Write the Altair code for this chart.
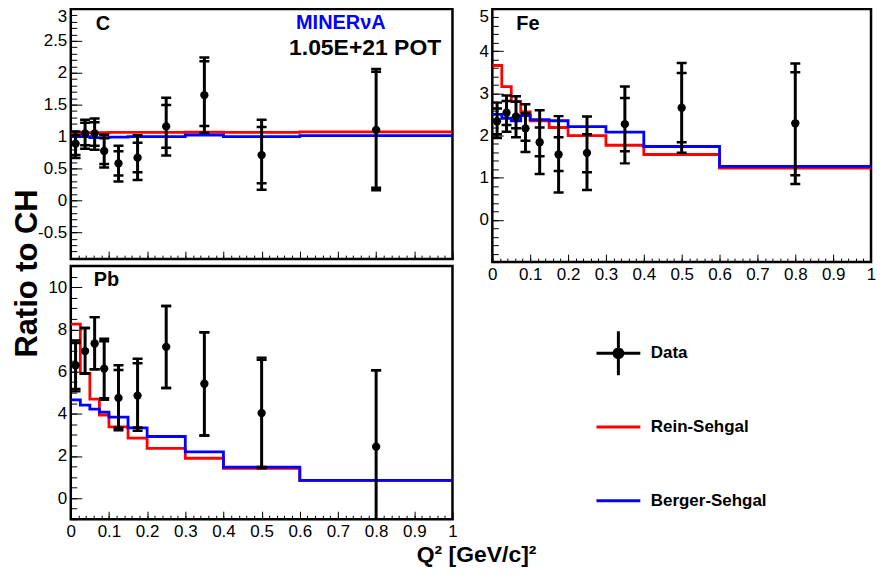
import altair as alt
import pandas as pd

FONT = "Liberation Sans"

# ---------------- data ----------------
edges = [0, 0.025, 0.05, 0.075, 0.1, 0.15, 0.2, 0.3, 0.4, 0.6, 1.0]
q2 = [0.0125, 0.0375, 0.0625, 0.0875, 0.125, 0.175, 0.25, 0.35, 0.5, 0.8]
models = ["Rein-Sehgal", "Berger-Sehgal"]
legend_names = ["Data", "Rein-Sehgal", "Berger-Sehgal"]
legend_colors = ["#000000", "#ff0000", "#0000ff"]
legend_shapes = [
    "M-1,0H1M0,-1V1M0.2,0A0.2,0.2,0,1,1,-0.2,0A0.2,0.2,0,1,1,0.2,0Z",
    "M0,-1M0,1M-1,0H1",
    "M0,-1M0,1M-1,0H1",
]

# Carbon
c_val = [0.89, 1.05, 1.05, 0.775, 0.58, 0.67, 1.16, 1.65, 0.71, 1.105]
c_tot_hi = [1.08, 1.265, 1.285, 1.03, 0.855, 1.02, 1.61, 2.24, 1.265, 2.06]
c_stat_hi = [1.02, 1.215, 1.225, 0.975, 0.77, 0.905, 1.495, 2.18, 1.15, 2.015]
c_stat_lo = [0.71, 0.865, 0.855, 0.57, 0.39, 0.44, 0.825, 1.165, 0.27, 0.20]
c_tot_lo = [0.665, 0.81, 0.795, 0.515, 0.295, 0.32, 0.705, 1.06, 0.165, 0.16]
c_rs = [1.05, 1.06, 1.06, 1.06, 1.065, 1.065, 1.065, 1.07, 1.065, 1.075]
c_bs = [1.0, 1.0, 0.985, 0.985, 0.99, 1.0, 1.0, 1.025, 1.0, 1.015]

# Iron
fe_val = [2.34, 2.54, 2.45, 2.17, 1.84, 1.55, 1.59, 2.27, 2.66, 2.29]
fe_tot_hi = [2.78, 2.95, 2.93, 2.74, 2.60, 2.46, 2.45, 3.16, 3.72, 3.71]
fe_stat_hi = [2.64, 2.82, 2.80, 2.52, 2.19, 1.96, 2.03, 2.89, 3.48, 3.50]
fe_stat_lo = [2.03, 2.25, 2.17, 1.875, 1.51, 1.16, 1.13, 1.625, 1.84, 1.06]
fe_tot_lo = [1.94, 2.09, 1.96, 1.61, 1.09, 0.65, 0.71, 1.34, 1.59, 0.85]
fe_rs = [3.66, 3.16, 2.81, 2.56, 2.35, 2.19, 2.0, 1.77, 1.55, 1.23]
fe_bs = [2.5, 2.41, 2.35, 2.47, 2.375, 2.35, 2.21, 2.08, 1.74, 1.27]

# Lead
pb_val = [6.3, 6.97, 7.33, 6.14, 4.75, 4.86, 7.17, 5.42, 4.03, 2.44]
pb_tot_hi = [7.47, 8.06, 8.58, 7.55, 6.3, 6.61, 9.11, 7.86, 6.66, 6.06]
pb_stat_hi = [7.35, 8.06, 8.58, 7.44, 6.07, 6.39, 9.11, 7.86, 6.56, 6.06]
pb_stat_lo = [5.17, 5.91, 6.11, 4.74, 3.33, 3.35, 5.22, 2.97, 1.47, -1.3]
pb_tot_lo = [5.06, 5.91, 6.11, 4.66, 3.22, 3.19, 5.22, 2.97, 1.41, -1.3]
pb_rs = [8.25, 5.91, 4.69, 3.94, 3.38, 2.84, 2.36, 1.89, 1.41, 0.84]
pb_bs = [4.66, 4.41, 4.22, 4.08, 3.84, 3.33, 2.92, 2.19, 1.47, 0.84]

# axis ticks
x_major = [0, 0.1, 0.2, 0.3, 0.4, 0.5, 0.6, 0.7, 0.8, 0.9, 1.0]
x_minor = [round(i * 0.02, 2) for i in range(51)]
c_major = [-0.5, 0, 0.5, 1, 1.5, 2, 2.5]
c_top = [3]
c_minor = [round(-0.9 + i * 0.1, 2) for i in range(40)]
fe_major = [0, 1, 2, 3, 4]
fe_top = [5]
fe_minor = [round(-1 + i * 0.2, 2) for i in range(31)]
pb_major = [0, 2, 4, 6, 8, 10]
pb_top = []
pb_minor = [round(-1 + i * 0.5, 2) for i in range(25)]

LABEL_EXPR = "datum.value < 0 ? '-' + format(-datum.value, '~r') : format(datum.value, '~r')"


def points_df(val, tlo, slo, shi, thi):
    return pd.DataFrame({"q2": q2, "val": val, "tot_lo": tlo, "stat_lo": slo,
                         "stat_hi": shi, "tot_hi": thi})


def model_df(rs, bs):
    rows = []
    for name, vals in zip(models, [rs, bs]):
        for i, e in enumerate(edges):
            rows.append({"model": name, "x": e, "y": vals[min(i, len(vals) - 1)]})
    return pd.DataFrame(rows)


LEG = alt.Legend(title=None, orient="none", legendX=526, legendY=322,
                 symbolSize=1936, symbolStrokeWidth=3, symbolOpacity=1,
                 labelFontSize=17, labelFontWeight="bold", labelFont=FONT,
                 labelColor="black", labelOffset=9, rowPadding=17, gridAlign="all")
S_STROKE = alt.Scale(domain=legend_names, range=legend_colors)
S_FILL = alt.Scale(domain=legend_names, range=legend_colors)
S_SHAPE = alt.Scale(domain=legend_names, range=legend_shapes)


def label_axis(orient, values, labels, baseline=None):
    kw = {}
    if baseline:
        kw["labelBaseline"] = baseline
    return alt.Axis(orient=orient, values=values, labels=labels, ticks=False,
                    domain=False, grid=False, title=None, labelExpr=LABEL_EXPR,
                    labelFontSize=17, labelFont=FONT, labelColor="black",
                    labelPadding=4, labelFlush=False, **kw)


def tick_axis(orient, values, size):
    return alt.Axis(orient=orient, values=values, labels=False, ticks=True,
                    tickSize=size, offset=-size, domain=False, grid=False,
                    title=None, tickColor="black", tickWidth=1)


def panel(pts, mdl, ydom, y_major, y_top, y_minor, xlabels, w, h, texts, legend=False):
    X = alt.Scale(domain=[0, 1], nice=False, zero=False)
    Y = alt.Scale(domain=ydom, nice=False, zero=False)

    top_axis = label_axis("left", y_top, True, "top") if y_top else None
    lines = alt.Chart(mdl).mark_line(interpolate="step-after", strokeWidth=2.8,
                                     clip=True).encode(
        x=alt.X("x:Q", scale=X, axis=None),
        y=alt.Y("y:Q", scale=Y, axis=top_axis),
        stroke=alt.Stroke("model:N", scale=S_STROKE, legend=LEG),
    )
    rules = alt.Chart(pts).mark_rule(strokeWidth=3, color="black", clip=True).encode(
        x=alt.X("q2:Q", scale=X, axis=label_axis("bottom", x_major, xlabels)),
        y=alt.Y("tot_lo:Q", scale=Y, axis=label_axis("left", y_major, True)),
        y2="tot_hi:Q",
    )
    caps = alt.Chart(pts).transform_fold(
        ["tot_lo", "tot_hi", "stat_lo", "stat_hi"], as_=["kind", "cap"]
    ).mark_tick(orient="horizontal", size=10, thickness=2.5, color="black",
                opacity=1, clip=True).encode(
        x=alt.X("q2:Q", scale=X, axis=tick_axis("bottom", x_major, 8)),
        y=alt.Y("cap:Q", scale=Y, axis=tick_axis("left", y_major + y_top, 11)),
    )
    dots = alt.Chart(pts).mark_circle(size=70, color="black", opacity=1,
                                      clip=True).encode(
        x=alt.X("q2:Q", scale=X, axis=tick_axis("bottom", x_minor, 4)),
        y=alt.Y("val:Q", scale=Y, axis=tick_axis("left", y_minor, 6)),
    )
    layers = [lines, rules, caps, dots]
    if legend:
        legdf = pd.DataFrame({"model": legend_names, "lx": q2[:3], "ly": pb_val[:3]})
        inv = alt.Chart(legdf).mark_point(filled=True, opacity=0, size=1936,
                                          clip=True).encode(
            x=alt.X("lx:Q", scale=X, axis=None),
            y=alt.Y("ly:Q", scale=Y, axis=None),
            fill=alt.Fill("model:N", scale=S_FILL, legend=LEG),
            stroke=alt.Stroke("model:N", scale=S_STROKE, legend=LEG),
            shape=alt.Shape("model:N", scale=S_SHAPE, legend=LEG),
        )
        layers.append(inv)
    for (txt, px, py, fs, col) in texts:
        layers.append(
            alt.Chart(pd.DataFrame({"t": [txt]})).mark_text(
                align="left", baseline="alphabetic", font=FONT, fontSize=fs,
                fontWeight="bold", color=col
            ).encode(text="t:N", x=alt.value(px), y=alt.value(py))
        )
    return alt.layer(*layers).resolve_axis(x="independent", y="independent").properties(
        width=w, height=h)


c_chart = panel(points_df(c_val, c_tot_lo, c_stat_lo, c_stat_hi, c_tot_hi),
                model_df(c_rs, c_bs), [-0.92, 3.0], c_major, c_top, c_minor, False,
                383, 251,
                [("C", 25, 21, 20, "black"), ("MINERνA", 226, 20, 20, "#0000ff"),
                 ("1.05E+21 POT", 219, 46, 23, "black")])
pb_chart = panel(points_df(pb_val, pb_tot_lo, pb_stat_lo, pb_stat_hi, pb_tot_hi),
                 model_df(pb_rs, pb_bs), [-1, 11], pb_major, pb_top, pb_minor, True,
                 383, 254, [("Pb", 23, 20, 20, "black")], legend=True)
fe_chart = panel(points_df(fe_val, fe_tot_lo, fe_stat_lo, fe_stat_hi, fe_tot_hi),
                 model_df(fe_rs, fe_bs), [-1, 5], fe_major, fe_top, fe_minor, True,
                 380, 254, [("Fe", 24, 21, 20, "black")])

left = alt.vconcat(c_chart, pb_chart, spacing=3).properties(
    title=alt.TitleParams("Ratio to CH", orient="left", anchor="middle", fontSize=31,
                          fontWeight="bold", font=FONT, color="black", offset=-8))

chart = alt.hconcat(left, fe_chart, spacing=19).properties(
    title=alt.TitleParams("Q² [GeV/c]²", orient="bottom", anchor="middle", fontSize=23,
                          fontWeight="bold", font=FONT, color="black", dx=32, offset=4),
    padding={"left": 4, "top": -3, "right": 0, "bottom": 0},
).configure(font=FONT).configure_view(stroke="black", strokeWidth=2.5)

chart.save("out.html", embed_options={"renderer": "svg", "actions": False})
